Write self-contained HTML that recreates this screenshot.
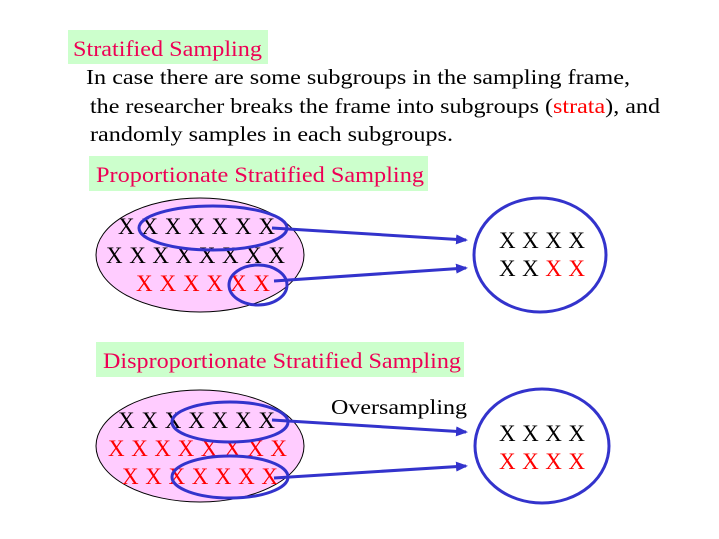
<!DOCTYPE html>
<html><head><meta charset="utf-8"><style>
html,body{margin:0;padding:0;background:#fff;}
svg{display:block;font-family:"Liberation Serif",serif;}
</style></head><body>
<svg width="719" height="539" viewBox="0 0 719 539" xmlns="http://www.w3.org/2000/svg">
<defs><marker id="a" markerWidth="12" markerHeight="10" refX="10" refY="5" orient="auto" markerUnits="userSpaceOnUse"><path d="M0,0 L12,5 L0,10 Z" fill="#3333cc"/></marker></defs>
<rect x="68" y="30" width="200" height="34" fill="#ccffcc"/>
<text x="73" y="56" font-size="22" fill="#ee0055" textLength="189" lengthAdjust="spacingAndGlyphs">Stratified Sampling</text>
<g font-size="21" fill="#000">
<text x="86" y="84" textLength="544" lengthAdjust="spacingAndGlyphs">In case there are some subgroups in the sampling frame,</text>
<text x="90" y="113" textLength="570" lengthAdjust="spacingAndGlyphs">the researcher breaks the frame into subgroups (<tspan fill="#ff0000">strata</tspan>), and</text>
<text x="90" y="141" textLength="363" lengthAdjust="spacingAndGlyphs">randomly samples in each subgroups.</text>
</g>
<rect x="89" y="156" width="339" height="35" fill="#ccffcc"/>
<text x="96" y="182" font-size="22" fill="#ee0055" textLength="328" lengthAdjust="spacingAndGlyphs">Proportionate Stratified Sampling</text>
<ellipse cx="200" cy="255" rx="104" ry="57" fill="#ffccff" stroke="#000" stroke-width="1"/>
<g font-size="23">
<text x="118" y="234" fill="#000" textLength="157" lengthAdjust="spacing">X X X X X X X</text>
<text x="106" y="263" fill="#000" textLength="179" lengthAdjust="spacing">X X X X X X X X</text>
<text x="136" y="291" fill="#ff0000" textLength="134" lengthAdjust="spacing">X X X X X X</text>
</g>
<ellipse cx="213" cy="228" rx="74" ry="22" fill="none" stroke="#3333cc" stroke-width="3"/>
<ellipse cx="258" cy="285" rx="29" ry="20" fill="none" stroke="#3333cc" stroke-width="3"/>
<line x1="272" y1="228" x2="466" y2="240" stroke="#3333cc" stroke-width="3" marker-end="url(#a)"/>
<line x1="274" y1="281" x2="466" y2="268" stroke="#3333cc" stroke-width="3" marker-end="url(#a)"/>
<ellipse cx="540" cy="255" rx="66" ry="57" fill="none" stroke="#3333cc" stroke-width="3"/>
<g font-size="23">
<text x="499" y="248" fill="#000" textLength="86" lengthAdjust="spacing">X X X X</text>
<text x="499" y="276" fill="#000" textLength="86" lengthAdjust="spacing">X X <tspan fill="#ff0000">X X</tspan></text>
</g>
<rect x="96" y="342" width="368" height="35" fill="#ccffcc"/>
<text x="103" y="368" font-size="22" fill="#ee0055" textLength="358" lengthAdjust="spacingAndGlyphs">Disproportionate Stratified Sampling</text>
<ellipse cx="200" cy="446" rx="104" ry="56" fill="#ffccff" stroke="#000" stroke-width="1"/>
<g font-size="23">
<text x="118" y="428" fill="#000" textLength="157" lengthAdjust="spacing">X X X X X X X</text>
<text x="108" y="456" fill="#ff0000" textLength="179" lengthAdjust="spacing">X X X X X X X X</text>
<text x="122" y="484" fill="#ff0000" textLength="156" lengthAdjust="spacing">X X X X X X X</text>
</g>
<ellipse cx="230" cy="422" rx="58" ry="20" fill="none" stroke="#3333cc" stroke-width="3"/>
<ellipse cx="230" cy="477" rx="58" ry="21" fill="none" stroke="#3333cc" stroke-width="3"/>
<line x1="272" y1="420" x2="466" y2="432" stroke="#3333cc" stroke-width="3" marker-end="url(#a)"/>
<line x1="274" y1="478" x2="466" y2="466" stroke="#3333cc" stroke-width="3" marker-end="url(#a)"/>
<text x="331" y="414" font-size="21" fill="#000" textLength="136" lengthAdjust="spacingAndGlyphs">Oversampling</text>
<ellipse cx="542" cy="446" rx="67" ry="57" fill="none" stroke="#3333cc" stroke-width="3"/>
<g font-size="23">
<text x="499" y="441" fill="#000" textLength="86" lengthAdjust="spacing">X X X X</text>
<text x="499" y="469" fill="#ff0000" textLength="86" lengthAdjust="spacing">X X X X</text>
</g>
</svg>
</body></html>
